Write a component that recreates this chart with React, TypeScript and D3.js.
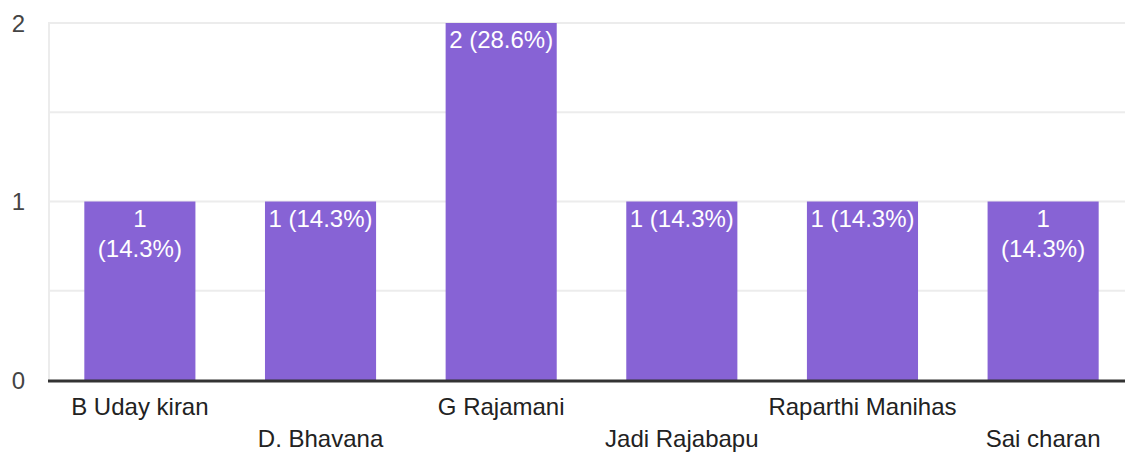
import React, { useEffect, useRef } from "react";
import * as d3 from "d3";

const names = ["B Uday kiran", "D. Bhavana", "G Rajamani", "Jadi Rajabapu", "Raparthi Manihas", "Sai charan"];
const counts = [1, 1, 2, 1, 1, 1];
const labels = [["1", "(14.3%)"], ["1 (14.3%)"], ["2 (28.6%)"], ["1 (14.3%)"], ["1 (14.3%)"], ["1", "(14.3%)"]];
const yTicks = [0, 1, 2];
const gridTicks = [0.5, 1, 1.5, 2];

const width = 1125;
const height = 454;

export default function App() {
  const ref = useRef<SVGSVGElement>(null);

  useEffect(() => {
    const svg = d3.select(ref.current);
    svg.selectAll("*").remove();

    const x = d3.scaleBand().domain(names).range([50, 1133]).paddingInner(0.385).paddingOuter(0.19);
    const y = d3.scaleLinear().domain([0, 2]).range([380, 23]);
    const font = "Arial, 'Liberation Sans', sans-serif";
    const fs = 24;

    svg.append("rect").attr("width", width).attr("height", height).attr("fill", "#fff");

    // grid
    svg.selectAll(".grid").data(gridTicks).enter().append("line")
      .attr("x1", 48).attr("x2", width)
      .attr("y1", d => y(d)).attr("y2", d => y(d))
      .attr("stroke", "#ececec").attr("stroke-width", 2);
    svg.append("line").attr("x1", 49).attr("x2", 49).attr("y1", y(2) - 1).attr("y2", y(0))
      .attr("stroke", "#ececec").attr("stroke-width", 2);

    // bars
    svg.selectAll(".bar").data(counts).enter().append("rect")
      .attr("x", (_, i) => x(names[i])!)
      .attr("y", d => y(d))
      .attr("width", x.bandwidth())
      .attr("height", d => y(0) - y(d))
      .attr("fill", "#8763d5");

    // bar labels
    labels.forEach((lines, i) => {
      const cx = x(names[i])! + x.bandwidth() / 2;
      const t = svg.append("text").attr("text-anchor", "middle").attr("fill", "#fff")
        .attr("font-family", font).attr("font-size", fs);
      lines.forEach((l, j) => {
        t.append("tspan").attr("x", cx).attr("y", y(counts[i]) + 25 + j * 30).text(l);
      });
    });

    // baseline
    svg.append("line").attr("x1", 48).attr("x2", width).attr("y1", y(0) + 1).attr("y2", y(0) + 1)
      .attr("stroke", "#333").attr("stroke-width", 3);

    // y ticks
    svg.selectAll(".yt").data(yTicks).enter().append("text")
      .attr("x", 25).attr("y", d => y(d) + 8.5)
      .attr("text-anchor", "end").attr("fill", "#444")
      .attr("font-family", font).attr("font-size", fs)
      .text(d => d);

    // x labels (staggered)
    svg.selectAll(".xl").data(names).enter().append("text")
      .attr("x", d => x(d)! + x.bandwidth() / 2)
      .attr("y", (_, i) => (i % 2 === 0 ? 415 : 447))
      .attr("text-anchor", "middle").attr("fill", "#222")
      .attr("font-family", font).attr("font-size", fs)
      .text(d => d);
  }, []);

  return (
    <svg ref={ref} width={width} height={height}
      style={{ position: "absolute", left: 0, top: 0, display: "block" }} />
  );
}
